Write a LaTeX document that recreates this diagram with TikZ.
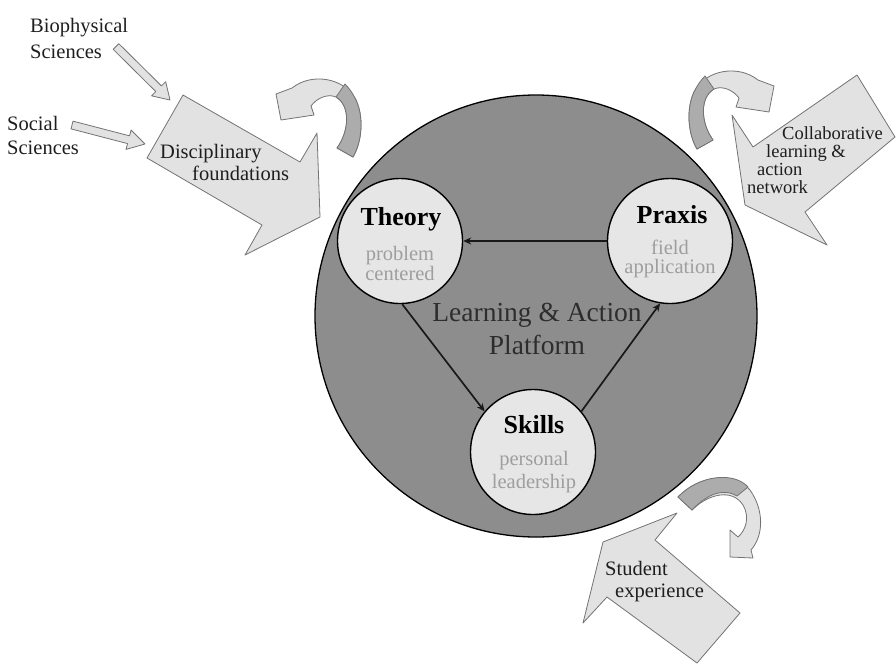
\documentclass[tikz,border=0pt]{standalone}
\usepackage{fontspec}
\setmainfont{Liberation Serif}
\usetikzlibrary{calc,arrows.meta}
\definecolor{bigfill}{RGB}{141,141,141}
\definecolor{smallfill}{RGB}{230,230,230}
\definecolor{subgrey}{RGB}{158,158,158}
\definecolor{blockfill}{RGB}{226,226,226}
\definecolor{blockedge}{RGB}{115,115,115}
\definecolor{darkband}{RGB}{172,172,172}
\definecolor{maintext}{RGB}{45,45,45}
\definecolor{sidetextcol}{RGB}{30,30,30}
\tikzset{
  bigcircle/.style={circle, draw=black, line width=1.3pt, fill=bigfill, minimum size=442pt, inner sep=0pt},
  stage/.style={circle, draw=black, line width=1.4pt, fill=smallfill, minimum size=125pt, inner sep=0pt},
  stagetitle/.style={anchor=base, font=\fontsize{26}{26}\selectfont\bfseries, text=black, inner sep=0pt},
  stagesub/.style={anchor=base, font=\fontsize{20.5}{20.5}\selectfont, text=subgrey, inner sep=0pt},
  platform/.style={anchor=base, font=\fontsize{27.5}{27.5}\selectfont, text=maintext, inner sep=0pt},
  sidetext/.style={anchor=base west, font=\fontsize{20.5}{20.5}\selectfont, text=sidetextcol, inner sep=0pt},
  colltext/.style={anchor=base west, font=\fontsize{18.5}{18.5}\selectfont, text=sidetextcol, inner sep=0pt},
  flow/.style={line width=1.7pt, draw=black!90, -{Stealth[length=8pt,width=7pt]}},
  blockarrow/.style={fill=blockfill, draw=blockedge, line width=0.8pt, line join=round},
  bandlight/.style={fill=blockfill, draw=blockedge, line width=0.8pt, line join=round},
  banddark/.style={fill=darkband, draw=blockedge, line width=0.8pt, line join=round},
}
% tail, tip, shaft half width, head half width, head length
\newcommand\sidearrow[5]{%
  \coordinate (ha) at ($(#2)!#5!(#1)$);
  \draw[blockarrow] ($(#1)!#3!90:(#2)$) -- ($(ha)!#3!90:(#2)$) -- ($(ha)!#4!90:(#2)$)
    -- (#2) -- ($(ha)!#4!-90:(#2)$) -- ($(ha)!#3!-90:(#2)$) -- ($(#1)!#3!-90:(#2)$) -- cycle;
}
% curved turning arrow (image coordinates, as drawn near the top left)
\newcommand\turnarrow{%
  \draw[bandlight] (337,148) .. controls (350,130) and (350,105) .. (336,97)
    .. controls (327,93) and (316,99) .. (311,106) -- (314,115) -- (281,120) -- (276,94) -- (292,88)
    .. controls (312,72) and (345,78) .. (356,100)
    .. controls (364,117) and (362,142) .. (353,157) -- cycle;
  \draw[banddark] (337,148) .. controls (350,130) and (350,105) .. (336,97) -- (345,84)
    .. controls (350,89) and (353,94) .. (356,100)
    .. controls (364,117) and (362,142) .. (353,157) -- cycle;
}
\begin{document}
\begin{tikzpicture}[x=1pt,y=-1pt]
\useasboundingbox (0,0) rectangle (896,665);

% platform
\node[bigcircle] (platformcircle) at (536,316) {};

% stages
\node[stage] (theory) at (400,241) {};
\node[stage] (praxis) at (670,241) {};
\node[stage] (skills) at (533,452) {};

\node[stagetitle] (theoryT) at (401,225) {Theory};
\node[stagesub] (theoryA) at (400,260) {problem};
\node[stagesub] (theoryB) at (400,280) {centered};

\node[stagetitle] (praxisT) at (672,223) {Praxis};
\node[stagesub] (praxisA) at (670,254) {field};
\node[stagesub] (praxisB) at (670,273) {application};

\node[stagetitle] (skillsT) at (534,433) {Skills};
\node[stagesub] (skillsA) at (534,465) {personal};
\node[stagesub] (skillsB) at (534,488) {leadership};

\node[platform] (platA) at (537,321) {Learning \& Action};
\node[platform] (platB) at (537,354) {Platform};

% cycle
\draw[flow] (praxis.west) -- (theory.east);
\draw[flow] (theory.-88) -- (skills.140);
\draw[flow] (skills.40) -- (praxis.-99);

% disciplinary foundations
\draw[blockarrow] (183,95) -- (300,162) -- (317,133) -- (320,217) -- (245,255) -- (262,225) -- (147,158) -- cycle;
\node[sidetext] (discA) at (160,158) {Disciplinary};
\node[sidetext] (discB) at (192,180) {foundations};

% inputs
\coordinate (bioT) at (116,46.5);
\coordinate (bioP) at (170,100);
\sidearrow{bioT}{bioP}{4pt}{10pt}{16pt}
\coordinate (socT) at (72,125);
\coordinate (socP) at (145,144);
\sidearrow{socT}{socP}{4pt}{10pt}{17pt}
\node[sidetext] (bioA) at (30,32) {Biophysical};
\node[sidetext] (bioB) at (30,58) {Sciences};
\node[sidetext] (socA) at (7,130) {Social};
\node[sidetext] (socB) at (7,154) {Sciences};

% collaborative network
\draw[blockarrow] (857,75) -- (753,147) -- (732,115) -- (745,205) -- (827,245) -- (805,212) -- (895,137) -- cycle;
\node[colltext] (colA) at (782,139) {Collaborative};
\node[colltext] (colB) at (766,157) {learning \&};
\node[colltext] (colC) at (757,175) {action};
\node[colltext] (colD) at (747,193) {network};

% student experience
\draw[blockarrow] (603,542) -- (677,513) -- (655,540) -- (740,613) -- (697,663) -- (607,597) -- (583,623) -- cycle;
\node[sidetext] (stuA) at (605,575) {Student};
\node[sidetext] (stuB) at (615,597) {experience};

% curved arrows
\turnarrow
\begin{scope}[shift={(1050,-8)}, xscale=-1]
  \turnarrow
\end{scope}
\draw[bandlight] (692,510) .. controls (708,494) and (732,488) .. (743,505)
  .. controls (750,517) and (746,530) .. (738,537) -- (730,530) -- (730,557) -- (753,558) -- (751,550)
  .. controls (764,535) and (764,510) .. (750,490)
  .. controls (735,472) and (700,474) .. (678,497) -- cycle;
\draw[banddark] (678,497) .. controls (700,474) and (735,472) .. (748,487) -- (737,496)
  .. controls (722,487) and (705,496) .. (692,510) -- cycle;
\end{tikzpicture}
\end{document}
